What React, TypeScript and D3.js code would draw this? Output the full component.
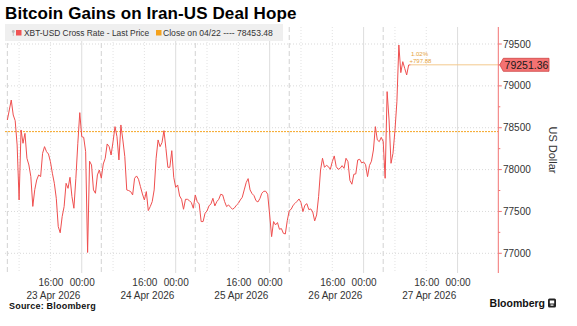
import React from "react";
import * as d3 from "d3";

// ---- Data ----
const seriesStartUtc = Date.UTC(2026, 3, 23, 5, 0); // 23 Apr 2026 05:00, 30-minute bars
const stepMinutes = 30;
const prices: number[] = [
  78592, 78712, 78831, 78652, 78584, 78294, 77637, 78473, 78314, 78433,
  78135, 78055, 77916, 77560, 77760, 77876, 77936, 77916, 78194, 78274,
  78214, 78186, 78095, 77956, 77836, 77657, 77319, 77245, 77438, 77558,
  77836, 77776, 77908, 77677, 77538, 77896, 78314, 78680, 78393, 78385,
  78214, 77010, 78100, 78055, 77757, 77717, 77936, 77995, 77896, 78067,
  78135, 78306, 78274, 78174, 78334, 78513, 78393, 78115, 78533, 78354,
  78155, 77757, 77749, 77737, 77697, 77896, 77924, 77884, 77796, 77709,
  77637, 77737, 77510, 77558, 77617, 77757, 78135, 78354, 78274, 78322,
  78465, 78254, 78027, 78027, 78226, 77908, 77788, 77816, 77685, 77645,
  77526, 77645, 77645, 77629, 77605, 77538, 77697, 77617, 77589, 77379,
  77379, 77478, 77506, 77566, 77590, 77657, 77566, 77617, 77645, 77705,
  77697, 77617, 77558, 77578, 77550, 77526, 77542, 77574, 77597, 77637,
  77669, 77757, 77844, 77892, 77757, 77713, 77689, 77629, 77613, 77653,
  77717, 77741, 77741, 77705, 77458, 77199, 77379, 77339, 77367, 77287,
  77295, 77239, 77231, 77390, 77510, 77526, 77574, 77597, 77621, 77649,
  77605, 77498, 77574, 77593, 77522, 77530, 77494, 77387, 77458, 77677,
  77995, 78135, 78027, 78051, 78035, 78003, 78095, 78163, 78035, 78003,
  78015, 78047, 78015, 78135, 78095, 77870, 77825, 77944, 77948, 78115,
  78123, 78079, 78091, 78059, 77916, 78050, 78100, 78234, 78513, 78354,
  78334, 78385, 78334, 77896, 78931, 78592, 78075, 78194, 78465, 78811,
  79488, 79158, 79289, 79209, 79130, 79249, 79251.36,
];
const closeValue = 78453.48;
const lastValue = 79251.36;
const changeLabel = "1.02%";
const changeAbsLabel = "+797.88";
const yMajorTicks = [77000, 77500, 78000, 78500, 79000, 79500];
const yMinorTicks = [77250, 77750, 78250, 78750, 79250];
const labelDays = [23, 24, 25, 26, 27];
const gridDays = [23, 24, 25, 26, 27, 28];
const title = "Bitcoin Gains on Iran-US Deal Hope";
const legendSeries = "XBT-USD Cross Rate - Last Price";
const legendClose = "Close on 04/22 ---- 78453.48";

const FONT = "'Liberation Sans', Arial, sans-serif";

export default function App() {
  const W = 577, H = 326;
  const left = 5, right = 498.3, top = 27, bottom = 273;

  const x = d3
    .scaleUtc()
    .domain([new Date(Date.UTC(2026, 3, 23, 4, 24)), new Date(Date.UTC(2026, 3, 28, 10, 24))])
    .range([left, right]);
  const y = d3.scaleLinear().domain([77000, 79500]).range([253.3, 44]);

  const data = prices.map((v, i) => ({
    t: new Date(seriesStartUtc + i * stepMinutes * 60000),
    v,
  }));
  const line = d3
    .line<{ t: Date; v: number }>()
    .x((d) => x(d.t))
    .y((d) => y(d.v));

  const gridLines: { xp: number; kind: string }[] = [];
  const limit = x(new Date(Date.UTC(2026, 3, 28, 0, 0)));
  gridDays.forEach((d) => {
    [0, 5, 8, 16].forEach((h) => {
      const xp = x(new Date(Date.UTC(2026, 3, d, h, 0)));
      if (xp >= left && xp <= limit + 0.1) gridLines.push({ xp, kind: h === 0 ? "solid" : h === 5 ? "dash" : "dot" });
    });
  });

  const last = data[data.length - 1];
  const lastX = x(last.t);
  const lastY = y(lastValue);
  const closeY = y(closeValue);

  return (
    <svg width={W} height={H} style={{ position: "absolute", left: 0, top: 0, background: "#fff" }} fontFamily={FONT}>
      {/* title */}
      <text x={5} y={19} fontSize={17} fontWeight={700} fill="#000" letterSpacing={0.1}>{title}</text>

      {/* vertical grid */}
      {gridLines.map((g, i) => (
        <line
          key={"vg" + i}
          x1={g.xp}
          x2={g.xp}
          y1={top}
          y2={bottom}
          stroke={g.kind === "solid" ? "#dddddd" : g.kind === "dash" ? "#d2d2d2" : "#e2e2e2"}
          strokeWidth={1}
          strokeDasharray={g.kind === "solid" ? undefined : g.kind === "dash" ? "5,3" : "1,2"}
        />
      ))}
      {/* horizontal grid */}
      {yMajorTicks.map((t) => (
        <line key={"hg" + t} x1={left} x2={right} y1={y(t)} y2={y(t)} stroke="#d9d9d9" strokeDasharray="1,2" />
      ))}

      {/* legend */}
      <rect x={5} y={24} width={278} height={17} fill="#efefef" />
      <circle cx={13.3} cy={31.5} r={1.4} fill="#bbbbbb" />
      <line x1={13.3} x2={13.3} y1={32} y2={36} stroke="#bbbbbb" strokeWidth={0.8} />
      <rect x={16} y={30} width={5.5} height={5.5} fill="#f05454" />
      <text x={24} y={36} fontSize={8.4} fill="#333">{legendSeries}</text>
      <rect x={156} y={30} width={5.5} height={5.5} fill="#f5a21c" />
      <text x={163} y={36} fontSize={8.6} fill="#333">{legendClose}</text>

      {/* close reference line */}
      <line x1={left} x2={right} y1={closeY} y2={closeY} stroke="#f5a623" strokeWidth={1} strokeDasharray="2,1" />

      {/* series */}
      <path d={line(data) || ""} fill="none" stroke="#ef4f4f" strokeWidth={1} strokeLinejoin="round" />

      {/* last price line + annotation */}
      <line x1={lastX} x2={right} y1={lastY} y2={lastY} stroke="#f3c98e" strokeWidth={1} />
      <text x={411} y={56} fontSize={6} fill="#e5a23a">{changeLabel}</text>
      <text x={409.5} y={62.5} fontSize={6} fill="#e5a23a">{changeAbsLabel}</text>

      {/* right axis */}
      <line x1={right} x2={right} y1={top} y2={bottom} stroke="#f27272" strokeWidth={1} />
      {yMajorTicks.map((t) => (
        <g key={"yt" + t}>
          <line x1={right} x2={right + 3.5} y1={y(t)} y2={y(t)} stroke="#f27272" />
          <text x={503} y={y(t) + 3.6} fontSize={10} fill="#333">{t}</text>
        </g>
      ))}
      {yMinorTicks.map((t) => (
        <line key={"ym" + t} x1={right} x2={right + 2} y1={y(t)} y2={y(t)} stroke="#f27272" />
      ))}
      <text transform={`translate(549,150) rotate(90)`} fontSize={11} fill="#333" textAnchor="middle">US Dollar</text>

      {/* last price box */}
      <path
        d={`M${right + 1.5},${lastY} L${right + 5},${lastY - 6.5} L549,${lastY - 6.5} L549,${lastY + 6.5} L${right + 5},${lastY + 6.5} Z`}
        fill="#f47272"
        stroke="#cf4545"
        strokeWidth={0.8}
      />
      <text x={526.5} y={lastY + 3.8} fontSize={10.5} fill="#1a1a1a" textAnchor="middle">{lastValue.toFixed(2)}</text>

      {/* x labels */}
      {labelDays.map((d) => {
        const x16 = x(new Date(Date.UTC(2026, 3, d, 16, 0)));
        const x00 = x(new Date(Date.UTC(2026, 3, d + 1, 0, 0)));
        return (
          <g key={"xl" + d} fontSize={10} fill="#333">
            <text x={x16 + 0.5} y={285.5} textAnchor="middle">16:00</text>
            <text x={x00 + 0.5} y={285.5} textAnchor="middle">00:00</text>
            <text x={x16 + 3} y={299} textAnchor="middle">{`${d} Apr 2026`}</text>
          </g>
        );
      })}

      {/* footer */}
      <text x={9} y={309} fontSize={9} fontWeight={700} fill="#111" letterSpacing={0.2}>Source: Bloomberg</text>
      <text x={545} y={307} fontSize={10.5} fontWeight={700} fill="#111" textAnchor="end">Bloomberg</text>
      <rect x={548} y={298.5} width={8} height={9} rx={1.5} fill="#222" />
      <rect x={549.8} y={300.5} width={4.4} height={3} fill="#fff" />
      <rect x={550.5} y={304.5} width={3} height={1.2} fill="#fff" />
    </svg>
  );
}
